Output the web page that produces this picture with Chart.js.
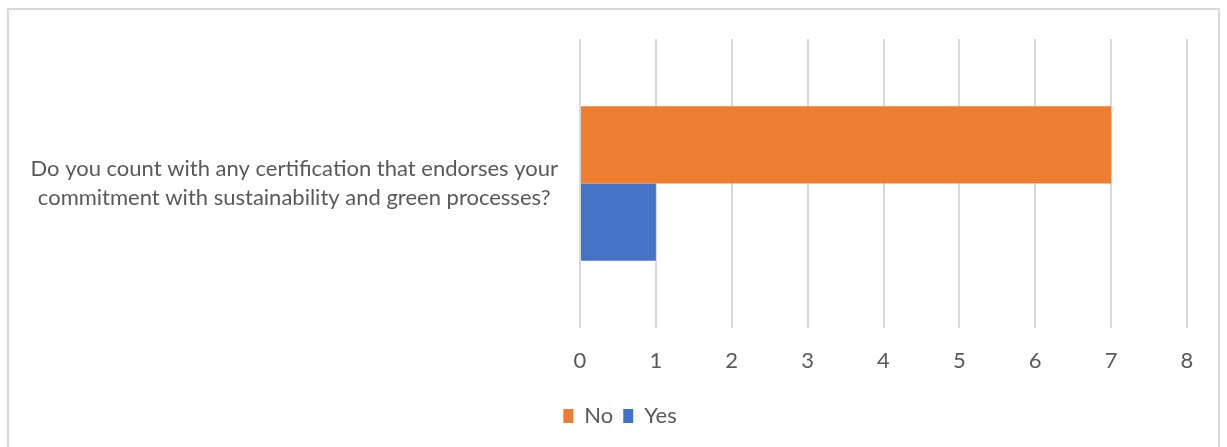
<!DOCTYPE html>
<html>
<head>
<meta charset="utf-8">
<script src="https://cdn.jsdelivr.net/npm/chart.js@4"></script>
<style>
  html, body { margin: 0; padding: 0; background: #fff; width: 1227px; height: 447px; overflow: hidden; }
  #frame { position: absolute; left: 7px; top: 8px; width: 1213px; height: 460px; border: 2px solid #D9D9D9; box-sizing: border-box; }
  #wrap { position: absolute; left: 9px; top: 10px; width: 1212px; height: 437px; }
</style>
</head>
<body>
<div id="frame"></div>
<div id="wrap"><canvas id="c"></canvas></div>
<script>
const categories = [["Do you count with any certification that endorses your", "commitment with sustainability and green processes?"]];
const seriesNames = ["No", "Yes"];
const noValues = [7];
const yesValues = [1];
const xTicks = [0, 1, 2, 3, 4, 5, 6, 7, 8];

const FONT = "Lato";
const TEXT = "#595959";

new Chart(document.getElementById("c"), {
  type: "bar",
  data: {
    labels: categories,
    datasets: [
      { label: seriesNames[0], data: noValues, backgroundColor: "#ED7D31", borderWidth: 0 },
      { label: seriesNames[1], data: yesValues, backgroundColor: "#4472C4", borderWidth: 0 }
    ]
  },
  options: {
    indexAxis: "y",
    responsive: true,
    maintainAspectRatio: false,
    animation: false,
    categoryPercentage: 0.535,
    barPercentage: 1.0,
    layout: { padding: { top: 29, right: 34, left: 44, bottom: 10 } },
    plugins: {
      tooltip: { enabled: false },
      legend: {
        position: "bottom",
        labels: { font: { family: FONT, size: 22 }, color: TEXT, boxWidth: 10, boxHeight: 14, padding: 10 }
      }
    },
    scales: {
      x: {
        min: xTicks[0], max: xTicks[xTicks.length - 1],
        afterBuildTicks: (s) => { s.ticks = xTicks.map(v => ({ value: v })); },
        ticks: { font: { family: FONT, size: 22 }, color: TEXT, padding: 20 },
        grid: { color: "#D9D9D9", lineWidth: 2, drawTicks: false },
        border: { display: false },
        afterFit: (s) => { s.height = 67; }
      },
      y: {
        ticks: { font: { family: FONT, size: 22, lineHeight: 1.3 }, color: TEXT, padding: 14, crossAlign: "center" },
        grid: { display: false },
        border: { display: false },
        afterFit: (s) => { s.width = 527; s.paddingTop = 0; s.paddingBottom = 0; },
        afterUpdate: (s) => { s._computeLabelArea = () => undefined; }
      }
    }
  }
});
</script>
</body>
</html>
